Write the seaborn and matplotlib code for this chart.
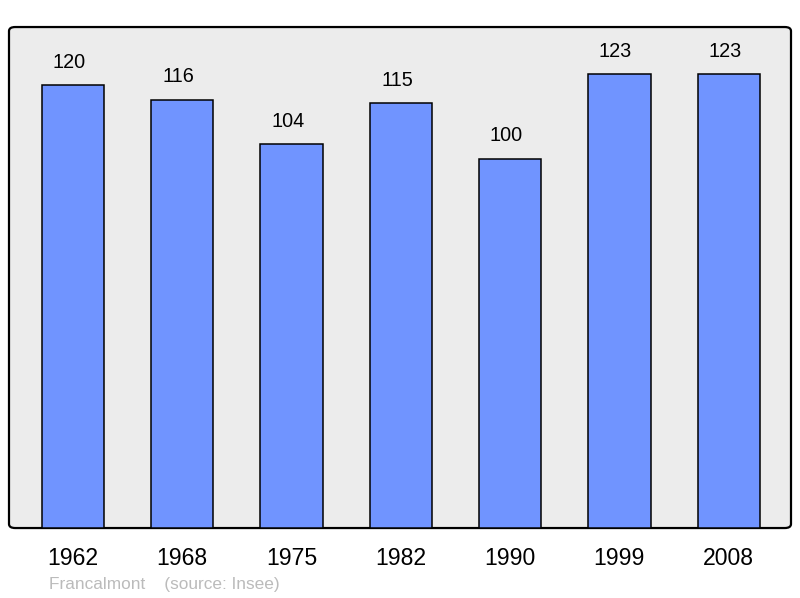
import numpy as np
import pandas as pd
import matplotlib
matplotlib.use("Agg")
import matplotlib.pyplot as plt
import seaborn as sns
from matplotlib.patches import FancyBboxPatch

years = ["1962", "1968", "1975", "1982", "1990", "1999", "2008"]
population = [120, 116, 104, 115, 100, 123, 123]

df = pd.DataFrame({"year": years, "pop": population})

sns.set_style("white")
plt.rcParams['font.family'] = ['Liberation Sans', 'DejaVu Sans']

fig = plt.figure(figsize=(8, 5.98), dpi=100)
ax = fig.add_axes([0.01125, 0.117, 0.9775, 0.8378])

sns.barplot(data=df, x="year", y="pop", color="#7094ff", saturation=1,
            width=0.57, edgecolor="black", linewidth=1.1, ax=ax, zorder=3)

# bar labels (sit a little left of the bar centre, like the original)
for i, v in enumerate(population):
    ax.text(i - 0.035, v + 6.2, str(v), ha="center", va="center", fontsize=14.3,
            color="black", zorder=4)

ax.set_xlim(-0.585, 6.57)
ax.set_ylim(0, 135.7)
ax.set_facecolor("none")
for s in ax.spines.values():
    s.set_visible(False)

# rounded background frame
frame = FancyBboxPatch((0, 0), 1, 1, boxstyle="round,pad=0,rounding_size=0.008",
                       transform=ax.transAxes, facecolor="#ececec", edgecolor="black",
                       linewidth=1.6, zorder=0, clip_on=False)
ax.add_patch(frame)

ax.set_yticks([])
ax.tick_params(axis="x", length=0, pad=14, labelsize=16.6, labelcolor="black")
ax.set_xlabel("")
ax.set_ylabel("")

fig.text(49 / 800, 1 - 584 / 598, "Francalmont    (source: Insee)", color="#bbbbbb",
         fontsize=12.4, ha="left", va="center")

fig.savefig("out.png", dpi=100)
